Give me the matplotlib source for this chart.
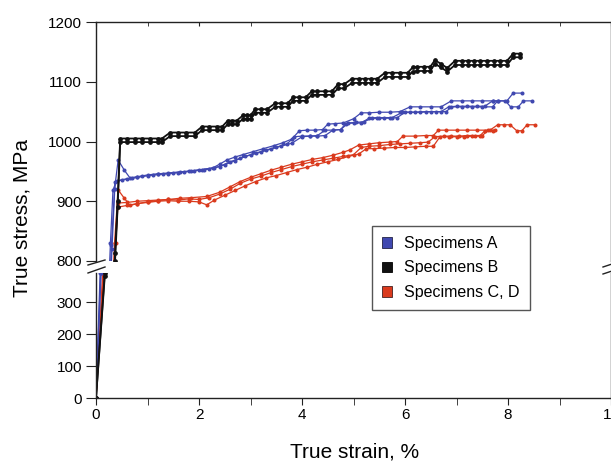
import matplotlib
matplotlib.use('Agg')
import matplotlib.pyplot as plt
from matplotlib.patches import Patch
from matplotlib.lines import Line2D
from matplotlib.ticker import MultipleLocator

plt.rcParams['font.family'] = ['Liberation Sans', 'DejaVu Sans']

# ---------------- data ----------------
strain_A1 = [0, 0.09, 0.30, 0.36, 0.43, 0.55, 0.66, 0.8, 1.0, 1.2, 1.4, 1.63, 1.85, 2.05, 2.27, 2.4, 2.54, 2.7, 2.85, 3.05,
             3.25, 3.45, 3.63, 3.8, 3.95, 4.1, 4.25, 4.4, 4.5, 4.65, 4.8, 5.0, 5.15, 5.3, 5.5, 5.7, 5.9, 6.1, 6.3, 6.5,
             6.7, 6.9, 7.1, 7.3, 7.5, 7.7, 7.98, 8.1, 8.27]
stress_A1 = [0, 390, 827, 920, 969, 952, 939, 941, 944, 946, 947, 949, 951, 953, 956, 962, 969, 974, 978, 983,
             988, 993, 998, 1004, 1018, 1019, 1019, 1020, 1029, 1030, 1031, 1038, 1048, 1048, 1049, 1049, 1050, 1058, 1058, 1058,
             1058, 1068, 1068, 1068, 1068, 1068, 1068, 1081, 1081]

strain_A2 = [0, 0.08, 0.28, 0.33, 0.4, 0.6, 0.8, 1.0, 1.2, 1.4, 1.6, 1.8, 2.0, 2.2, 2.4, 2.6, 2.8, 3.0, 3.2, 3.4,
             3.6, 3.8, 4.0, 4.15, 4.3, 4.45, 4.6, 4.75, 4.9, 5.05, 5.2, 5.36, 5.5, 5.7, 5.85, 6.0, 6.2, 6.4, 6.6, 6.8,
             6.9, 7.1, 7.3, 7.5, 7.7, 7.8, 7.95, 8.05, 8.2, 8.3, 8.47]
stress_A2 = [0, 390, 830, 919, 934, 937, 940, 943, 945, 946, 948, 950, 952, 954, 958, 966, 972, 978, 983, 988,
             993, 997, 1008, 1009, 1009, 1010, 1019, 1020, 1031, 1032, 1033, 1039, 1039, 1039, 1040, 1049, 1049, 1050, 1050, 1050,
             1058, 1058, 1058, 1058, 1058, 1068, 1068, 1058, 1058, 1068, 1068]

strain_A3 = [0, 0.10, 0.31, 0.37, 0.5, 0.7, 0.9, 1.1, 1.3, 1.5, 1.7, 1.9, 2.1, 2.3, 2.5, 2.7, 2.9, 3.1, 3.3, 3.5,
             3.7, 3.85, 4.0, 4.15, 4.3, 4.45, 4.6, 4.75, 4.85, 5.0, 5.15, 5.3, 5.45, 5.6, 5.75, 5.95, 6.1, 6.3, 6.5, 6.7,
             6.85, 7.0, 7.2, 7.4, 7.55, 7.7, 7.8]
stress_A3 = [0, 390, 820, 932, 936, 939, 942, 944, 946, 948, 949, 951, 953, 956, 961, 968, 975, 980, 985, 990,
             995, 1008, 1009, 1009, 1010, 1019, 1019, 1020, 1030, 1031, 1031, 1039, 1040, 1040, 1040, 1049, 1049, 1049, 1050, 1050,
             1058, 1059, 1059, 1059, 1059, 1068, 1068]

strain_B = [0, 0.17, 0.37, 0.42, 0.47, 0.6, 0.75, 0.9, 1.05, 1.2, 1.28, 1.44, 1.6, 1.75, 1.92, 2.06, 2.2, 2.35, 2.45, 2.56,
            2.65, 2.73, 2.86, 2.93, 3.0, 3.09, 3.2, 3.32, 3.48, 3.6, 3.72, 3.83, 3.95, 4.07, 4.19, 4.3, 4.45, 4.58, 4.7, 4.82,
            4.97, 5.1, 5.22, 5.34, 5.46, 5.61, 5.75, 5.9, 6.05, 6.15, 6.23, 6.36, 6.49, 6.58, 6.7, 6.82, 6.97, 7.1, 7.22, 7.34,
            7.46, 7.6, 7.72, 7.85, 7.98, 8.1, 8.23]
stress_B1 = [0, 390, 813, 900, 1005, 1005, 1005, 1005, 1005, 1005, 1005, 1015, 1015, 1015, 1015, 1025, 1025, 1025, 1025, 1035,
             1035, 1035, 1044, 1044, 1044, 1054, 1054, 1054, 1064, 1064, 1064, 1074, 1074, 1074, 1084, 1084, 1084, 1084, 1096, 1096,
             1105, 1105, 1105, 1105, 1105, 1115, 1115, 1115, 1115, 1124, 1125, 1125, 1125, 1136, 1130, 1123, 1135, 1135, 1135, 1135,
             1135, 1135, 1135, 1135, 1135, 1147, 1147]
stress_B2 = [0, 380, 800, 890, 999, 999, 999, 999, 999, 999, 999, 1009, 1009, 1009, 1009, 1019, 1019, 1019, 1019, 1029,
             1029, 1029, 1038, 1038, 1038, 1048, 1048, 1048, 1058, 1058, 1058, 1068, 1068, 1068, 1078, 1078, 1078, 1078, 1089, 1089,
             1098, 1098, 1098, 1098, 1098, 1108, 1108, 1108, 1108, 1117, 1118, 1118, 1118, 1130, 1124, 1117, 1128, 1128, 1128, 1128,
             1128, 1128, 1128, 1128, 1128, 1141, 1141]

strain_C1 = [0, 0.14, 0.36, 0.43, 0.55, 0.66, 0.8, 1.0, 1.2, 1.4, 1.63, 1.85, 2.15, 2.4, 2.6, 2.8, 3.0, 3.2, 3.4, 3.6,
             3.8, 4.0, 4.2, 4.4, 4.6, 4.8, 4.93, 5.1, 5.3, 5.5, 5.7, 5.85, 5.96, 6.2, 6.4, 6.55, 6.65, 6.8, 7.0, 7.2,
             7.4, 7.65, 7.8, 7.92, 8.04, 8.17, 8.27, 8.37, 8.52]
stress_C1 = [0, 390, 830, 919, 905, 893, 896, 899, 901, 903, 905, 906, 908, 915, 924, 933, 940, 946, 952, 957,
             962, 966, 970, 973, 977, 982, 986, 994, 996, 998, 999, 1000, 1009, 1009, 1010, 1010, 1019, 1019, 1019, 1019,
             1019, 1019, 1028, 1028, 1028, 1018, 1018, 1028, 1028]

strain_C2 = [0, 0.15, 0.38, 0.43, 0.6, 0.8, 1.0, 1.2, 1.4, 1.6, 1.8, 2.0, 2.2, 2.4, 2.6, 2.8, 3.0, 3.2, 3.4, 3.6,
             3.8, 4.0, 4.2, 4.4, 4.6, 4.8, 5.0, 5.15, 5.3, 5.5, 5.7, 5.9, 6.1, 6.3, 6.45, 6.58, 6.75, 6.9, 7.05, 7.2,
             7.35, 7.5, 7.62, 7.75]
stress_C2 = [0, 390, 830, 897, 898, 900, 901, 902, 903, 902, 904, 903, 906, 912, 920, 930, 937, 942, 948, 953,
             958, 962, 966, 969, 972, 975, 978, 990, 992, 993, 995, 996, 997, 998, 999, 1008, 1009, 1009, 1009, 1010,
             1010, 1010, 1019, 1019]

strain_C3 = [0, 0.13, 0.37, 0.42, 0.6, 0.8, 1.0, 1.2, 1.4, 1.6, 1.8, 2.0, 2.15, 2.3, 2.5, 2.7, 2.9, 3.1, 3.3, 3.5,
             3.7, 3.9, 4.1, 4.3, 4.5, 4.7, 4.9, 5.1, 5.25, 5.4, 5.6, 5.8, 6.0, 6.2, 6.4, 6.55, 6.68, 6.85, 7.0, 7.15,
             7.3, 7.45, 7.55, 7.7]
stress_C3 = [0, 390, 830, 890, 893, 896, 898, 900, 901, 900, 900, 899, 894, 902, 910, 918, 926, 933, 939, 943,
             948, 953, 957, 962, 966, 970, 975, 979, 988, 988, 989, 990, 990, 991, 992, 992, 1008, 1008, 1008, 1008,
             1009, 1009, 1018, 1018]

legend_labels = ['Specimens A', 'Specimens B', 'Specimens C, D']
x_ticks = [0, 2, 4, 6, 8, 10]
y_ticks_low = [0, 100, 200, 300]
y_ticks_high = [800, 900, 1000, 1100, 1200]

# ---------------- styling ----------------
BLUE = '#4048b0'
BLACK = '#111111'
RED = '#da3a1d'
W, H = 611, 463

fig = plt.figure(figsize=(W / 100, H / 100), dpi=100)
ax_top = fig.add_axes([96 / W, (H - 261) / H, 515 / W, 239 / H])
ax_bot = fig.add_axes([96 / W, (H - 398) / H, 515 / W, 392 * 0.32 / H])

curves = [
    (strain_C1, stress_C1, RED, 0.9, 1.9),
    (strain_C2, stress_C2, RED, 0.9, 1.9),
    (strain_C3, stress_C3, RED, 0.9, 1.9),
    (strain_A1, stress_A1, BLUE, 0.9, 1.9),
    (strain_A2, stress_A2, BLUE, 0.9, 1.9),
    (strain_A3, stress_A3, BLUE, 0.9, 1.9),
    (strain_B, stress_B1, BLACK, 1.3, 2.4),
    (strain_B, stress_B2, BLACK, 1.3, 2.4),
]
for ax in (ax_top, ax_bot):
    for xs, ys, c, lw, ms in curves:
        ax.plot(xs, ys, color=c, lw=lw, marker='o', ms=ms, mec=c, mfc=c)
    ax.set_xlim(0, 10)
    for sp in ax.spines.values():
        sp.set_linewidth(1.0)
        sp.set_color('#222222')

ax_top.set_ylim(800, 1200)
ax_bot.set_ylim(0, 392)
ax_top.spines['bottom'].set_visible(False)
ax_bot.spines['top'].set_visible(False)

ax_top.set_yticks(y_ticks_high)
ax_bot.set_yticks(y_ticks_low)
ax_bot.set_xticks(x_ticks)
ax_bot.xaxis.set_minor_locator(MultipleLocator(1))
ax_top.set_xticks(x_ticks)
ax_top.xaxis.set_minor_locator(MultipleLocator(1))

ax_top.tick_params(axis='x', which='both', bottom=False, top=True, direction='in', length=3,
                   labelbottom=False, labeltop=False, color='#222222')
ax_top.tick_params(axis='y', which='both', left=True, right=False, direction='out', length=7,
                   labelsize=11, pad=3, color='#222222')
ax_bot.tick_params(axis='x', which='both', bottom=True, top=False, direction='out', length=5,
                   labelsize=11, pad=2, color='#222222')
ax_bot.tick_params(axis='y', which='both', left=True, right=False, direction='out', length=7,
                   labelsize=11, pad=3, color='#222222')

# break marks
def brk(x0, y0, x1, y1):
    fig.add_artist(Line2D([x0 / W, x1 / W], [1 - y0 / H, 1 - y1 / H], transform=fig.transFigure,
                          color='#222222', lw=1.0))

brk(88, 265, 105, 260)
brk(88, 273, 105, 267)
brk(603, 267, 612, 264)
brk(603, 274, 612, 271)

# axis labels
fig.text(22 / W, 1 - 218 / H, 'True stress, MPa', rotation=90, ha='center', va='center', fontsize=15)
fig.text(355 / W, 1 - 452 / H, 'True strain, %', ha='center', va='center', fontsize=15)

# legend
handles = [Patch(facecolor=BLUE, edgecolor='#222244', lw=0.6),
           Patch(facecolor=BLACK, edgecolor='#000000', lw=0.6),
           Patch(facecolor=RED, edgecolor='#442222', lw=0.6)]
leg = fig.legend(handles, legend_labels, loc='upper left', bbox_to_anchor=(372 / W, 1 - 226 / H),
                 frameon=True, fancybox=False, edgecolor='#555555', framealpha=1, fontsize=11.5,
                 handlelength=0.65, handleheight=0.65, handletextpad=0.75, borderpad=0.62,
                 labelspacing=0.6, borderaxespad=0)
leg.get_frame().set_linewidth(1.0)

fig.savefig('out.png', dpi=100)
